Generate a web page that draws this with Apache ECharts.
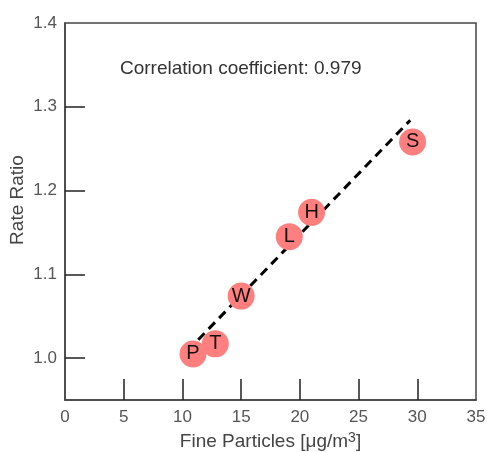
<!DOCTYPE html>
<html><head><meta charset="utf-8">
<script src="https://cdn.jsdelivr.net/npm/echarts@6/dist/echarts.min.js"></script>
<style>html,body{margin:0;padding:0;background:#fff}#c{width:487px;height:452px}</style>
</head><body><div id="c"></div>
<script>
var cities = ['P','T','W','L','H','S'];
var fineParticles = [10.9, 12.8, 15.0, 19.1, 21.0, 29.6];
var rateRatio = [1.005, 1.017, 1.074, 1.145, 1.174, 1.258];
var fitX = [11.35, 29.4];
var fitY = [1.022, 1.284];
var xTicks = [0, 5, 10, 15, 20, 25, 30, 35];
var yTicks = [1.0, 1.1, 1.2, 1.3, 1.4];
var corrText = 'Correlation coefficient: 0.979';
var xName = 'Fine Particles [{m|μ}g/m{s|3}]';
var yName = 'Rate Ratio';

var font = 'Liberation Sans, Arial, Helvetica, sans-serif';
var chart = echarts.init(document.getElementById('c'));
chart.setOption({
  animation: false,
  backgroundColor: '#fff',
  grid: {left: 65, top: 23, right: 11, bottom: 52, containLabel: false, outerBoundsMode: 'none',
    show: true, borderColor: '#444', borderWidth: 1.5},
  xAxis: {
    type: 'value', min: 0, max: 35,
    name: xName,
    nameLocation: 'middle', nameGap: 28,
    nameTextStyle: {fontFamily: font, fontSize: 19, color: '#444',
      rich: {m: {fontFamily: font, fontSize: 19, color: '#444'}, s: {fontFamily: font, fontSize: 14, color: '#444', verticalAlign: 'top', padding: [0,0,8,0]}}},
    axisLine: {lineStyle: {color: '#444', width: 1.5}},
    axisTick: {inside: true, length: 21, lineStyle: {color: '#222', width: 1.5}, customValues: xTicks.slice(1, -1)},
    axisLabel: {customValues: xTicks, fontFamily: font, fontSize: 17, color: '#555', margin: 9},
    splitLine: {show: false}
  },
  yAxis: {
    type: 'value', min: 0.95, max: 1.4,
    axisLine: {lineStyle: {color: '#444', width: 1.5}},
    axisTick: {inside: true, length: 20, lineStyle: {color: '#222', width: 1.5}, customValues: yTicks.slice(0, -1)},
    axisLabel: {customValues: yTicks, fontFamily: font, fontSize: 17, color: '#555', margin: 8,
      formatter: function (v) { return v.toFixed(1); }},
    splitLine: {show: false}
  },
  graphic: [{
    type: 'text', left: 120, top: 59,
    style: {text: corrText, fontFamily: font, fontSize: 19, fill: '#333'}
  }, {
    type: 'text', x: 18, y: 200, rotation: Math.PI / 2,
    style: {text: yName, fontFamily: font, fontSize: 19, fill: '#444', align: 'center', verticalAlign: 'middle'}
  }],
  series: [{
    type: 'line',
    data: fitX.map(function (x, i) { return [x, fitY[i]]; }),
    showSymbol: false, symbol: 'none',
    lineStyle: {color: '#000', width: 3, type: [9, 6]},
    z: 2
  }, {
    type: 'scatter',
    data: fineParticles.map(function (x, i) { return {value: [x, rateRatio[i]], name: cities[i]}; }),
    symbolSize: 27,
    itemStyle: {color: '#ff7f7f', opacity: 1},
    label: {show: true, position: 'inside', formatter: '{b}', fontFamily: font, fontSize: 20, color: '#111'},
    z: 3
  }]
});
</script></body></html>
